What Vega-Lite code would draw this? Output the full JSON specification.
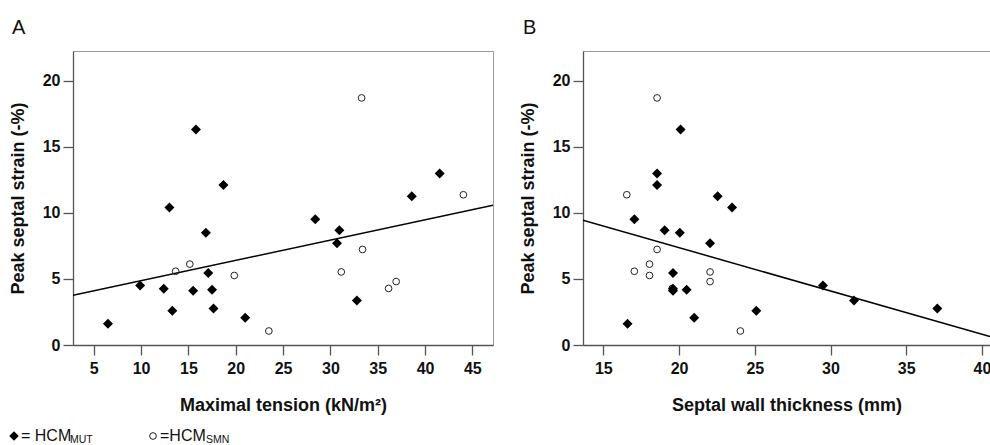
{
  "$schema": "https://vega.github.io/schema/vega-lite/v6.json",
  "padding": {"left": 8, "top": 17, "right": 0, "bottom": 0},
  "background": "white",
  "config": {
    "font": "Liberation Sans",
    "view": {"stroke": "#999", "strokeWidth": 1},
    "axis": {
      "grid": false,
      "domainColor": "#555",
      "domainWidth": 1.3,
      "tickColor": "#555",
      "tickWidth": 1.3,
      "tickSize": 10,
      "labelFont": "Liberation Sans",
      "labelFontWeight": "bold",
      "labelFontSize": 16,
      "labelColor": "#111",
      "titleFont": "Liberation Sans",
      "titleFontSize": 18,
      "titleFontWeight": "bold",
      "titleColor": "#111"
    },
    "axisX": {"labelPadding": 5, "titleY": 65, "titleBaseline": "alphabetic"},
    "axisY": {"labelPadding": 3, "titleX": -50, "titleBaseline": "alphabetic"},
    "title": {"anchor": "start", "frame": "group", "offset": 13, "baseline": "alphabetic", "fontSize": 20, "fontWeight": "normal", "font": "Liberation Sans", "color": "#111"}
  },
  "datasets": {
    "pts": [
      {"group": "MUT", "tension": 6.5, "thickness": 16.6, "strain": 1.6},
      {"group": "MUT", "tension": 9.9, "thickness": 29.5, "strain": 4.5},
      {"group": "MUT", "tension": 12.4, "thickness": 19.6, "strain": 4.25},
      {"group": "MUT", "tension": 13.3, "thickness": 25.1, "strain": 2.6},
      {"group": "MUT", "tension": 13.0, "thickness": 23.5, "strain": 10.4},
      {"group": "MUT", "tension": 15.8, "thickness": 20.1, "strain": 16.3},
      {"group": "MUT", "tension": 15.5, "thickness": 19.6, "strain": 4.1},
      {"group": "MUT", "tension": 17.1, "thickness": 19.6, "strain": 5.45},
      {"group": "MUT", "tension": 16.85, "thickness": 20.05, "strain": 8.5},
      {"group": "MUT", "tension": 17.5, "thickness": 20.5, "strain": 4.18},
      {"group": "MUT", "tension": 17.65, "thickness": 37.05, "strain": 2.77},
      {"group": "MUT", "tension": 18.7, "thickness": 18.55, "strain": 12.1},
      {"group": "MUT", "tension": 21.0, "thickness": 21.0, "strain": 2.06},
      {"group": "MUT", "tension": 28.4, "thickness": 17.05, "strain": 9.52},
      {"group": "MUT", "tension": 30.95, "thickness": 19.05, "strain": 8.68},
      {"group": "MUT", "tension": 30.7, "thickness": 22.05, "strain": 7.7},
      {"group": "MUT", "tension": 32.8, "thickness": 31.55, "strain": 3.37},
      {"group": "MUT", "tension": 38.6, "thickness": 22.55, "strain": 11.25},
      {"group": "MUT", "tension": 41.55, "thickness": 18.55, "strain": 12.97},
      {"group": "SMN", "tension": 13.65, "thickness": 17.05, "strain": 5.58},
      {"group": "SMN", "tension": 15.15, "thickness": 18.05, "strain": 6.12},
      {"group": "SMN", "tension": 19.85, "thickness": 18.05, "strain": 5.26},
      {"group": "SMN", "tension": 23.5, "thickness": 24.05, "strain": 1.06},
      {"group": "SMN", "tension": 33.3, "thickness": 18.55, "strain": 18.7},
      {"group": "SMN", "tension": 44.05, "thickness": 16.55, "strain": 11.37},
      {"group": "SMN", "tension": 33.4, "thickness": 18.55, "strain": 7.23},
      {"group": "SMN", "tension": 31.15, "thickness": 22.05, "strain": 5.53},
      {"group": "SMN", "tension": 36.15, "thickness": 19.55, "strain": 4.28},
      {"group": "SMN", "tension": 36.95, "thickness": 22.05, "strain": 4.8}
    ],
    "fitA": [
      {"x": 2.81, "y": 3.76},
      {"x": 47.18, "y": 10.58}
    ],
    "fitB": [
      {"x": 13.66, "y": 9.44},
      {"x": 40.53, "y": 0.65}
    ],
    "leg": [
      {"g": "MUT", "label": "= HCM", "sub": "MUT"},
      {"g": "SMN", "label": "=HCM", "sub": "SMN"}
    ]
  },
  "spacing": 13,
  "vconcat": [
    {
      "bounds": "flush",
      "spacing": 90,
      "hconcat": [
        {
          "width": 420,
          "height": 294,
          "title": {"text": "A", "dx": -61},
          "layer": [
            {
              "data": {"name": "fitA"},
              "mark": {"type": "line", "color": "black", "strokeWidth": 1.5, "clip": true},
              "encoding": {
                "x": {"field": "x", "type": "quantitative", "title": "Maximal tension (kN/m²)", "scale": {"domain": [2.81, 47.18], "nice": false, "zero": false}, "axis": {"values": [5, 10, 15, 20, 25, 30, 35, 40, 45]}},
                "y": {"field": "y", "type": "quantitative", "title": "Peak septal strain (-%)", "scale": {"domain": [0, 22.25], "nice": false}, "axis": {"values": [0, 5, 10, 15, 20]}}
              }
            },
            {
              "data": {"name": "pts"},
              "transform": [{"filter": "datum.group == 'SMN'"}],
              "mark": {"type": "point", "shape": "circle", "filled": false, "color": "#222", "strokeWidth": 1, "size": 45, "opacity": 1},
              "encoding": {
                "x": {"field": "tension", "type": "quantitative", "title": "Maximal tension (kN/m²)"},
                "y": {"field": "strain", "type": "quantitative", "title": "Peak septal strain (-%)"}
              }
            },
            {
              "data": {"name": "pts"},
              "transform": [{"filter": "datum.group == 'MUT'"}],
              "mark": {"type": "point", "shape": "diamond", "filled": true, "color": "black", "size": 100, "opacity": 1},
              "encoding": {
                "x": {"field": "tension", "type": "quantitative", "title": "Maximal tension (kN/m²)"},
                "y": {"field": "strain", "type": "quantitative", "title": "Peak septal strain (-%)"}
              }
            }
          ]
        },
        {
          "width": 407,
          "height": 294,
          "title": {"text": "B", "dx": -60},
          "layer": [
            {
              "data": {"name": "fitB"},
              "mark": {"type": "line", "color": "black", "strokeWidth": 1.5, "clip": true},
              "encoding": {
                "x": {"field": "x", "type": "quantitative", "title": "Septal wall thickness (mm)", "scale": {"domain": [13.66, 40.53], "nice": false, "zero": false}, "axis": {"values": [15, 20, 25, 30, 35, 40]}},
                "y": {"field": "y", "type": "quantitative", "title": "Peak septal strain (-%)", "scale": {"domain": [0, 22.25], "nice": false}, "axis": {"values": [0, 5, 10, 15, 20]}}
              }
            },
            {
              "data": {"name": "pts"},
              "transform": [{"filter": "datum.group == 'SMN'"}],
              "mark": {"type": "point", "shape": "circle", "filled": false, "color": "#222", "strokeWidth": 1, "size": 45, "opacity": 1},
              "encoding": {
                "x": {"field": "thickness", "type": "quantitative", "title": "Septal wall thickness (mm)"},
                "y": {"field": "strain", "type": "quantitative", "title": "Peak septal strain (-%)"}
              }
            },
            {
              "data": {"name": "pts"},
              "transform": [{"filter": "datum.group == 'MUT'"}],
              "mark": {"type": "point", "shape": "diamond", "filled": true, "color": "black", "size": 100, "opacity": 1},
              "encoding": {
                "x": {"field": "thickness", "type": "quantitative", "title": "Septal wall thickness (mm)"},
                "y": {"field": "strain", "type": "quantitative", "title": "Peak septal strain (-%)"}
              }
            }
          ]
        }
      ]
    },
    {
      "width": 250,
      "height": 14,
      "view": {"stroke": null},
      "data": {"name": "leg"},
      "encoding": {
        "x": {"field": "g", "type": "nominal", "scale": {"type": "point", "domain": ["MUT", "SMN"], "range": [-59, 80], "padding": 0}, "axis": null}
      },
      "layer": [
        {
          "transform": [{"filter": "datum.g == 'MUT'"}],
          "mark": {"type": "point", "shape": "diamond", "filled": true, "color": "black", "size": 90, "opacity": 1}
        },
        {
          "transform": [{"filter": "datum.g == 'SMN'"}],
          "mark": {"type": "point", "shape": "circle", "filled": false, "color": "#222", "strokeWidth": 1, "size": 45, "opacity": 1}
        },
        {
          "mark": {"type": "text", "align": "left", "dx": 7, "dy": 5, "baseline": "alphabetic", "fontSize": 16, "font": "Liberation Sans", "color": "#111"},
          "encoding": {"text": {"field": "label"}}
        },
        {
          "transform": [{"filter": "datum.g == 'MUT'"}],
          "mark": {"type": "text", "align": "left", "dx": 56, "dy": 7, "baseline": "alphabetic", "fontSize": 10.5, "font": "Liberation Sans", "color": "#111"},
          "encoding": {"text": {"field": "sub"}}
        },
        {
          "transform": [{"filter": "datum.g == 'SMN'"}],
          "mark": {"type": "text", "align": "left", "dx": 53, "dy": 7, "baseline": "alphabetic", "fontSize": 10.5, "font": "Liberation Sans", "color": "#111"},
          "encoding": {"text": {"field": "sub"}}
        }
      ]
    }
  ]
}
